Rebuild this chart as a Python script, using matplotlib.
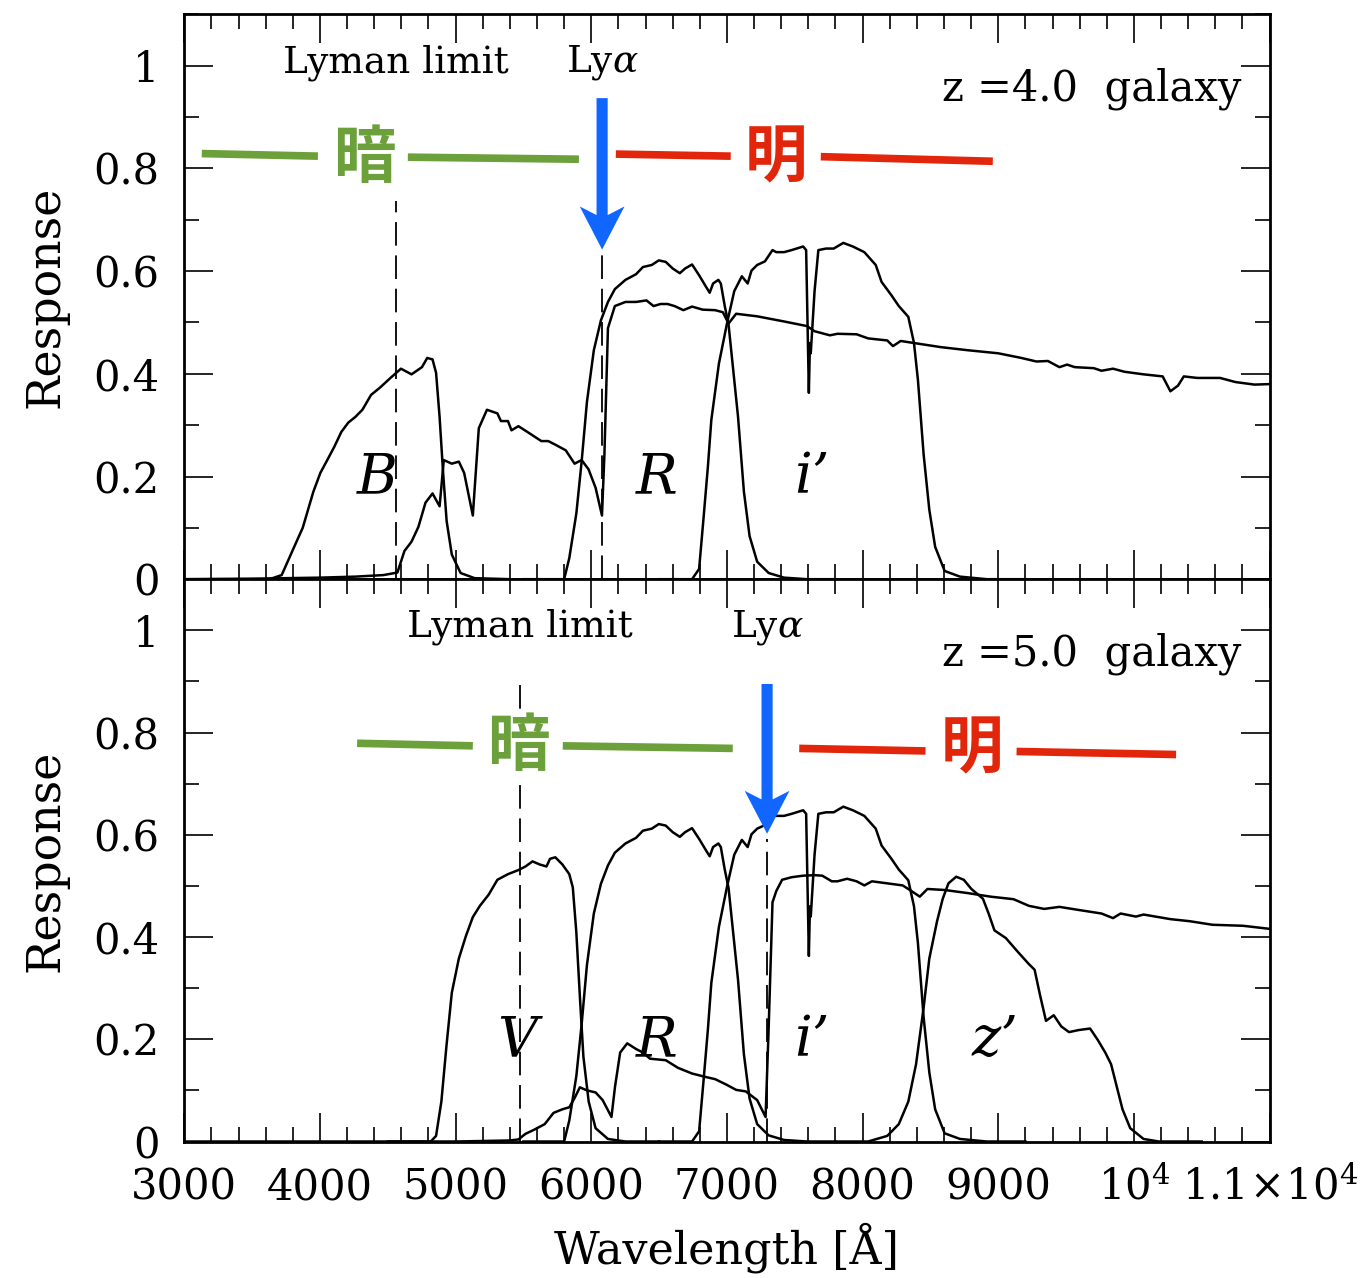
import matplotlib
matplotlib.use("Agg")
from matplotlib import pyplot as plt
from matplotlib.ticker import FixedLocator, MultipleLocator

plt.rcParams["font.family"] = ["DejaVu Serif"]
plt.rcParams["mathtext.fontset"] = "dejavuserif"
plt.rcParams["lines.scale_dashes"] = False

# rest-frame features [A]
LYMAN_LIMIT = 912.0
LYMAN_ALPHA = 1216.0
REDSHIFTS = [4.0, 5.0]

# filter response curves
B_WL = [3000, 3628, 3718, 3822, 3873, 3951, 4003, 4054, 4106, 4158, 4209, 4261, 4313, 4377,
        4442, 4520, 4597, 4675, 4752, 4791, 4830, 4856, 4882, 4908, 4934, 4972, 5037, 5140, 5400]
B_RESP = [0, 0, 0.008, 0.07, 0.10, 0.17, 0.207, 0.232, 0.258, 0.287, 0.305, 0.316, 0.330, 0.359,
          0.373, 0.392, 0.410, 0.399, 0.413, 0.431, 0.428, 0.402, 0.316, 0.207, 0.113, 0.048, 0.012, 0.002, 0]

V_WL = [4500, 4817, 4856, 4895, 4933, 4972, 5024, 5076, 5127, 5179, 5244, 5308, 5386, 5463, 5515,
        5567, 5619, 5670, 5696, 5735, 5787, 5838, 5864, 5890, 5916, 5942, 5981, 6032, 6123, 6252, 6500]
V_RESP = [0, 0, 0.011, 0.078, 0.188, 0.291, 0.358, 0.402, 0.439, 0.461, 0.483, 0.512, 0.523, 0.531, 0.538,
          0.548, 0.542, 0.538, 0.553, 0.556, 0.542, 0.523, 0.497, 0.409, 0.284, 0.166, 0.078, 0.026, 0.005, 0, 0]

R_WL = [5500, 5800, 5838, 5890, 5929, 5968, 6019, 6071, 6123, 6174, 6252, 6330, 6381, 6446, 6498,
        6549, 6601, 6653, 6691, 6743, 6795, 6847, 6873, 6898, 6937, 6955, 6984, 7012, 7054, 7082,
        7125, 7167, 7223, 7308, 7421, 7590, 7800]
R_RESP = [0, 0, 0.041, 0.128, 0.229, 0.345, 0.446, 0.504, 0.540, 0.565, 0.583, 0.594, 0.608, 0.612, 0.621,
          0.618, 0.605, 0.596, 0.605, 0.613, 0.592, 0.569, 0.558, 0.576, 0.583, 0.576, 0.532, 0.496, 0.388, 0.316,
          0.171, 0.084, 0.034, 0.012, 0.003, 0, 0]

I_WL = [6500, 6743, 6795, 6828, 6860, 6885, 6941, 7002, 7054, 7110, 7153, 7181, 7223, 7280, 7336,
        7364, 7421, 7477, 7562, 7584, 7604, 7612, 7618, 7646, 7674, 7731, 7787, 7858, 7928, 8013,
        8097, 8140, 8210, 8267, 8337, 8379, 8408, 8450, 8492, 8535, 8605, 8718, 8915, 9200]
I_RESP = [0, 0, 0.02, 0.12, 0.22, 0.31, 0.42, 0.50, 0.561, 0.590, 0.576, 0.601, 0.612, 0.619, 0.641,
          0.637, 0.637, 0.641, 0.648, 0.641, 0.363, 0.46, 0.44, 0.561, 0.641, 0.644, 0.644, 0.655, 0.648, 0.637,
          0.612, 0.579, 0.554, 0.532, 0.511, 0.460, 0.388, 0.243, 0.135, 0.063, 0.016, 0.005, 0, 0]

Z_WL = [7800, 8041, 8182, 8267, 8337, 8394, 8450, 8492, 8549, 8591, 8633, 8690, 8746, 8802, 8887,
        8929, 8972, 9056, 9141, 9226, 9268, 9310, 9352, 9409, 9465, 9522, 9592, 9677, 9733, 9789,
        9832, 9874, 9916, 9973, 10071, 10184, 10500]
Z_RESP = [0, 0, 0.011, 0.034, 0.078, 0.151, 0.262, 0.358, 0.431, 0.475, 0.505, 0.518, 0.512, 0.494, 0.475,
          0.446, 0.413, 0.398, 0.372, 0.347, 0.336, 0.284, 0.236, 0.247, 0.225, 0.214, 0.218, 0.221, 0.199, 0.174,
          0.151, 0.107, 0.063, 0.026, 0.005, 0, 0]

# attenuated galaxy spectra
SED4_WL = [3000, 3500, 4000, 4261, 4468, 4571, 4623, 4675, 4726, 4778, 4830, 4882, 4913, 4972, 5024,
           5063, 5127, 5171, 5231, 5308, 5334, 5386, 5412, 5463, 5528, 5632, 5683, 5735, 5812, 5877,
           5929, 5980, 6032, 6079, 6097, 6123, 6174, 6252, 6330, 6407, 6459, 6511, 6562, 6614, 6679,
           6743, 6821, 6913, 6970, 7012, 7068, 7223, 7421, 7590, 7646, 7759, 7815, 7956, 8041, 8182,
           8224, 8281, 8379, 8577, 8774, 9000, 9169, 9282, 9366, 9451, 9508, 9564, 9705, 9761, 9846,
           9931, 10071, 10212, 10269, 10325, 10368, 10466, 10635, 10748, 10889, 11000]
SED4_FLUX = [0.0, 0.001, 0.003, 0.005, 0.008, 0.013, 0.055, 0.073, 0.102, 0.149, 0.167, 0.142, 0.232, 0.225, 0.229,
             0.207, 0.124, 0.294, 0.330, 0.323, 0.308, 0.308, 0.290, 0.298, 0.287, 0.269, 0.269, 0.262, 0.251, 0.225,
             0.232, 0.214, 0.178, 0.124, 0.243, 0.489, 0.532, 0.540, 0.540, 0.543, 0.532, 0.536, 0.536, 0.532, 0.524,
             0.531, 0.525, 0.524, 0.520, 0.498, 0.517, 0.512, 0.502, 0.493, 0.483, 0.475, 0.478, 0.477, 0.469, 0.465,
             0.454, 0.464, 0.460, 0.452, 0.446, 0.440, 0.431, 0.424, 0.425, 0.413, 0.418, 0.413, 0.411, 0.406, 0.410,
             0.404, 0.399, 0.395, 0.366, 0.377, 0.395, 0.392, 0.392, 0.384, 0.379, 0.380]

SED5_WL = [3000, 5000, 5400, 5463, 5515, 5579, 5657, 5722, 5787, 5838, 5877, 5916, 5968, 6032, 6084,
           6149, 6175, 6213, 6265, 6330, 6381, 6433, 6549, 6640, 6743, 6847, 6913, 6998, 7068, 7139,
           7223, 7285, 7308, 7336, 7364, 7407, 7477, 7562, 7646, 7703, 7773, 7815, 7886, 7956, 8013,
           8069, 8182, 8295, 8337, 8422, 8478, 8605, 8774, 8943, 9113, 9226, 9338, 9451, 9592, 9761,
           9846, 9902, 10015, 10071, 10269, 10410, 10579, 10805, 11000]
SED5_FLUX = [0.0, 0.0, 0.002, 0.004, 0.015, 0.023, 0.034, 0.056, 0.063, 0.067, 0.085, 0.106, 0.100, 0.096, 0.081,
             0.048, 0.107, 0.174, 0.192, 0.181, 0.174, 0.162, 0.159, 0.144, 0.133, 0.126, 0.122, 0.111, 0.101, 0.098,
             0.081, 0.048, 0.225, 0.468, 0.490, 0.512, 0.517, 0.520, 0.521, 0.520, 0.509, 0.509, 0.514, 0.509, 0.501,
             0.509, 0.505, 0.501, 0.494, 0.479, 0.494, 0.492, 0.486, 0.479, 0.474, 0.461, 0.455, 0.459, 0.453, 0.446,
             0.437, 0.446, 0.440, 0.444, 0.435, 0.431, 0.424, 0.422, 0.416]

# filter name labels: (text, x position)
FILTER_LABELS_Z4 = [("B", 4420), ("R", 6482), ("i\u2019", 7624)]
FILTER_LABELS_Z5 = [("V", 5451), ("R", 6482), ("i\u2019", 7624), ("z\u2019", 8974)]

# dark / bright bars: (x0, y0, x1, y1)
DARK_BARS = [[(3129, 0.829, 3985, 0.824), (4648, 0.822, 5909, 0.818)],
             [(4274, 0.779, 5127, 0.774), (5790, 0.774, 7043, 0.769)]]
BRIGHT_BARS = [[(6181, 0.828, 7028, 0.824), (7692, 0.823, 8960, 0.814)],
               [(7533, 0.769, 8464, 0.764), (9135, 0.763, 10311, 0.757)]]
DARK_CHAR_POS = [(4324, 0.820), (5463, 0.772)]
BRIGHT_CHAR_POS = [(7364, 0.820), (8805, 0.767)]
ARROW_Y = [(0.937, 0.642), (0.895, 0.602)]     # (tail, tip)
LYLIM_TOP = [0.736, 0.90]

XTICKS = [3000, 4000, 5000, 6000, 7000, 8000, 9000, 10000, 11000]
XTICKLABELS = ["3000", "4000", "5000", "6000", "7000", "8000", "9000",
               r"$10^4$", r"$1.1\!\times\!10^4$"]
YTICKS = [0, 0.2, 0.4, 0.6, 0.8, 1.0]
YTICKLABELS = ["0", "0.2", "0.4", "0.6", "0.8", "1"]

GREEN = "#6BA03A"
RED = "#E2260B"
BLUE = "#1166FF"
CJK = ["Noto Sans CJK JP", "DejaVu Sans"]


def style_axes(ax, show_xlabels):
    ax.set_xlim(3000, 11000)
    ax.set_ylim(0, 1.1)
    ax.xaxis.set_major_locator(FixedLocator(XTICKS))
    ax.xaxis.set_minor_locator(MultipleLocator(200))
    ax.yaxis.set_major_locator(FixedLocator(YTICKS))
    ax.yaxis.set_minor_locator(MultipleLocator(0.1))
    ax.set_yticklabels(YTICKLABELS)
    if show_xlabels:
        ax.set_xticklabels(XTICKLABELS)
    ax.tick_params(which="both", direction="in", top=True, right=True, width=1.2,
                   labelsize=30, labelbottom=show_xlabels)
    ax.tick_params(which="major", length=21)
    ax.tick_params(which="minor", length=11)
    ax.tick_params(axis="y", pad=18)
    ax.tick_params(axis="x", pad=18)
    for sp in ax.spines.values():
        sp.set_linewidth(2.0)
    ax.set_ylabel("Response", fontsize=33, labelpad=18)


def draw_panel(ax, idx, curves, labels):
    z = REDSHIFTS[idx]
    lylim = LYMAN_LIMIT * (1 + z)
    lya = LYMAN_ALPHA * (1 + z)
    for wl, resp in curves:
        ax.plot(wl, resp, color="black", lw=1.8, zorder=3)
    for text, x in labels:
        ax.text(x, 0.197, text, fontsize=40, fontstyle="italic", ha="center", va="center", zorder=4)

    ax.plot([lylim, lylim], [0, LYLIM_TOP[idx]], color="black", lw=1.3, dashes=(17, 7), zorder=2)
    tail, tip = ARROW_Y[idx]
    ax.plot([lya, lya], [0, tip - 0.01], color="black", lw=1.3, dashes=(17, 7), zorder=2)
    ax.text(lylim, 1.006, "Lyman limit", fontsize=27, ha="center", va="center")
    ax.text(lya, 1.006, r"Ly$\alpha$", fontsize=27, ha="center", va="center")
    ax.text(10795, 0.955, "z =%.1f  galaxy" % z, fontsize=30, ha="right", va="center")

    for x0, y0, x1, y1 in DARK_BARS[idx]:
        ax.plot([x0, x1], [y0, y1], color=GREEN, lw=5.5, solid_capstyle="butt", zorder=5)
    for x0, y0, x1, y1 in BRIGHT_BARS[idx]:
        ax.plot([x0, x1], [y0, y1], color=RED, lw=5.5, solid_capstyle="butt", zorder=5)
    cx, cy = DARK_CHAR_POS[idx]
    ax.text(cx, cy, "暗", family=CJK, fontweight="bold", fontsize=45, color=GREEN,
            ha="center", va="center", zorder=6,
            bbox=dict(facecolor="white", edgecolor="none", pad=0))
    cx, cy = BRIGHT_CHAR_POS[idx]
    ax.text(cx, cy, "明", family=CJK, fontweight="bold", fontsize=45, color=RED,
            ha="center", va="center", zorder=6)

    ax.arrow(lya, tail, 0, tip - tail, width=82, head_width=330, head_length=0.084,
             length_includes_head=True, overhang=0.2, color=BLUE, lw=0, zorder=7)


fig = plt.figure(figsize=(13.6, 12.78), dpi=100)
ax_top = fig.add_axes([0.1355, 0.5468, 0.7980, 0.4419])
ax_bot = fig.add_axes([0.1355, 0.1068, 0.7980, 0.4400])

style_axes(ax_top, False)
style_axes(ax_bot, True)

draw_panel(ax_top, 0,
           [(B_WL, B_RESP), (R_WL, R_RESP), (I_WL, I_RESP), (SED4_WL, SED4_FLUX)],
           FILTER_LABELS_Z4)
draw_panel(ax_bot, 1,
           [(V_WL, V_RESP), (R_WL, R_RESP), (I_WL, I_RESP), (Z_WL, Z_RESP), (SED5_WL, SED5_FLUX)],
           FILTER_LABELS_Z5)

ax_bot.set_xlabel("Wavelength [Å]", fontsize=32, labelpad=10)

fig.savefig("out.png", dpi=100)
